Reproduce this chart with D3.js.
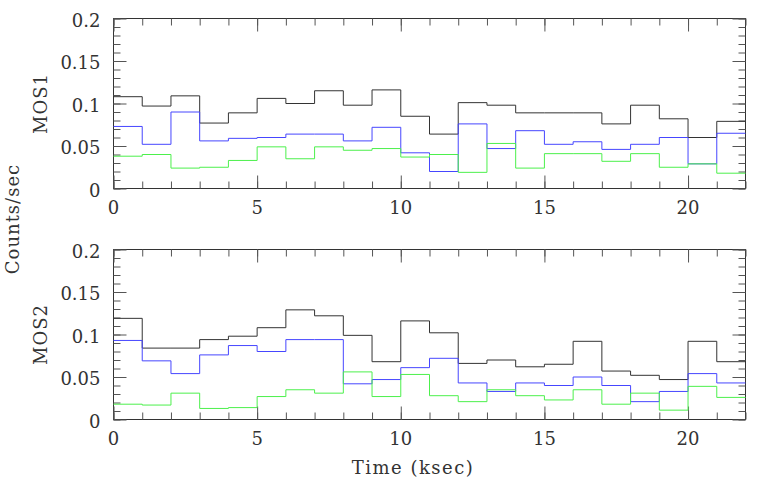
<!DOCTYPE html>
<html>
<head>
<meta charset="utf-8">
<script src="https://cdn.jsdelivr.net/npm/d3@7"></script>
<style>
  body { margin: 0; background: #fff; }
  text { font-family: "DejaVu Serif", serif; fill: #333; }
</style>
</head>
<body>
<script>
// bin start times (ksec), each bin 1 ksec wide
const timeBins = [0, 1, 2, 3, 4, 5, 6, 7, 8, 9, 10, 11, 12, 13, 14, 15, 16, 17, 18, 19, 20, 21];
const timeEnd = 22;

const mos1Black = [0.108, 0.097, 0.109, 0.077, 0.089, 0.106, 0.100, 0.115, 0.098, 0.116, 0.085,
                   0.064, 0.101, 0.098, 0.089, 0.089, 0.089, 0.076, 0.098, 0.082, 0.060, 0.079];
const mos1Blue  = [0.073, 0.052, 0.090, 0.056, 0.059, 0.060, 0.064, 0.064, 0.056, 0.072, 0.042,
                   0.020, 0.076, 0.047, 0.068, 0.052, 0.055, 0.046, 0.052, 0.060, 0.029, 0.065];
const mos1Green = [0.038, 0.040, 0.024, 0.025, 0.033, 0.049, 0.035, 0.049, 0.045, 0.047, 0.037,
                   0.040, 0.019, 0.053, 0.024, 0.041, 0.041, 0.032, 0.041, 0.025, 0.029, 0.018];

const mos2Black = [0.119, 0.084, 0.084, 0.094, 0.098, 0.108, 0.129, 0.122, 0.099, 0.068, 0.116,
                   0.102, 0.066, 0.070, 0.062, 0.065, 0.092, 0.057, 0.052, 0.047, 0.092, 0.068];
const mos2Blue  = [0.093, 0.069, 0.054, 0.076, 0.087, 0.080, 0.094, 0.094, 0.042, 0.047, 0.061,
                   0.072, 0.043, 0.033, 0.043, 0.040, 0.050, 0.040, 0.021, 0.033, 0.054, 0.043];
const mos2Green = [0.018, 0.017, 0.031, 0.013, 0.014, 0.027, 0.035, 0.031, 0.056, 0.027, 0.053,
                   0.028, 0.021, 0.035, 0.028, 0.023, 0.035, 0.018, 0.031, 0.011, 0.039, 0.026];

const xTicks = [0, 5, 10, 15, 20];
const yTicks = [0, 0.05, 0.1, 0.15, 0.2];
const yTickLabels = ["0", "0.05", "0.1", "0.15", "0.2"];

const panels = [
  {name: "MOS1", top: 18.5, bottom: 188.5, series: [mos1Black, mos1Blue, mos1Green]},
  {name: "MOS2", top: 249.5, bottom: 419.5, series: [mos2Black, mos2Blue, mos2Green]}
];
const colors = ["#333", "#4646ff", "#4cf04c"];

const w = 757, h = 486;
const left = 113.5, right = 745.5;

const svg = d3.select("body").append("svg")
  .attr("width", w)
  .attr("height", h);

const x = d3.scaleLinear().domain([0, timeEnd]).range([left, right]);

const line = d3.line()
  .x(d => x(d[0]))
  .curve(d3.curveStepAfter);

panels.forEach(p => {
  const y = d3.scaleLinear().domain([0, 0.2]).range([p.bottom, p.top]);
  const g = svg.append("g");

  // frame
  g.append("rect")
   .attr("x", left).attr("y", p.top)
   .attr("width", right - left).attr("height", p.bottom - p.top)
   .attr("fill", "none").attr("stroke", "#333");

  const minorX = d3.range(0, timeEnd + 1, 1);
  const minorY = d3.range(0, 0.2001, 0.01);

  const axes = [
    [d3.axisBottom(x).tickValues(minorX).tickSize(-7), `translate(0,${p.bottom})`],
    [d3.axisBottom(x).tickValues(xTicks).tickSize(-13), `translate(0,${p.bottom})`],
    [d3.axisTop(x).tickValues(minorX).tickSize(-7), `translate(0,${p.top})`],
    [d3.axisTop(x).tickValues(xTicks).tickSize(-13), `translate(0,${p.top})`],
    [d3.axisLeft(y).tickValues(minorY).tickSize(-7), `translate(${left},0)`],
    [d3.axisLeft(y).tickValues(yTicks).tickSize(-13), `translate(${left},0)`],
    [d3.axisRight(y).tickValues(minorY).tickSize(-7), `translate(${right},0)`],
    [d3.axisRight(y).tickValues(yTicks).tickSize(-13), `translate(${right},0)`]
  ];
  axes.forEach(([ax, tr]) => {
    const a = g.append("g").attr("transform", tr).call(ax.tickFormat(""));
    a.select(".domain").remove();
    a.selectAll("line").attr("stroke", "#555");
  });

  // tick labels
  g.selectAll(".xl").data(xTicks).enter().append("text")
   .attr("x", d => x(d))
   .attr("y", p.bottom + 25)
   .attr("text-anchor", "middle")
   .style("font-size", "18px")
   .text(d => d);

  g.selectAll(".yl").data(yTicks).enter().append("text")
   .attr("x", left - 13)
   .attr("y", d => y(d) + 8)
   .attr("text-anchor", "end")
   .style("font-size", "18px")
   .text((d, i) => yTickLabels[i]);

  g.append("text")
   .attr("transform", `translate(47,${(p.top + p.bottom) / 2}) rotate(-90)`)
   .attr("text-anchor", "middle")
   .style("font-size", "18px")
   .style("letter-spacing", "1px")
   .text(p.name);

  p.series.forEach((vals, si) => {
    const pts = timeBins.map((t, i) => [t, vals[i]]);
    pts.push([timeEnd, vals[vals.length - 1]]);
    g.append("path")
     .datum(pts)
     .attr("fill", "none")
     .attr("stroke", colors[si])
     .attr("stroke-width", 1)
     .attr("d", line.y(d => y(d[1])));
  });
});

svg.append("text")
  .attr("transform", `translate(19,219) rotate(-90)`)
  .attr("text-anchor", "middle")
  .style("font-size", "18px")
  .style("letter-spacing", "1px")
  .text("Counts/sec");

svg.append("text")
  .attr("x", 413)
  .attr("y", 474)
  .attr("text-anchor", "middle")
  .style("font-size", "18px")
  .style("letter-spacing", "1.5px")
  .text("Time (ksec)");
</script>
</body>
</html>
